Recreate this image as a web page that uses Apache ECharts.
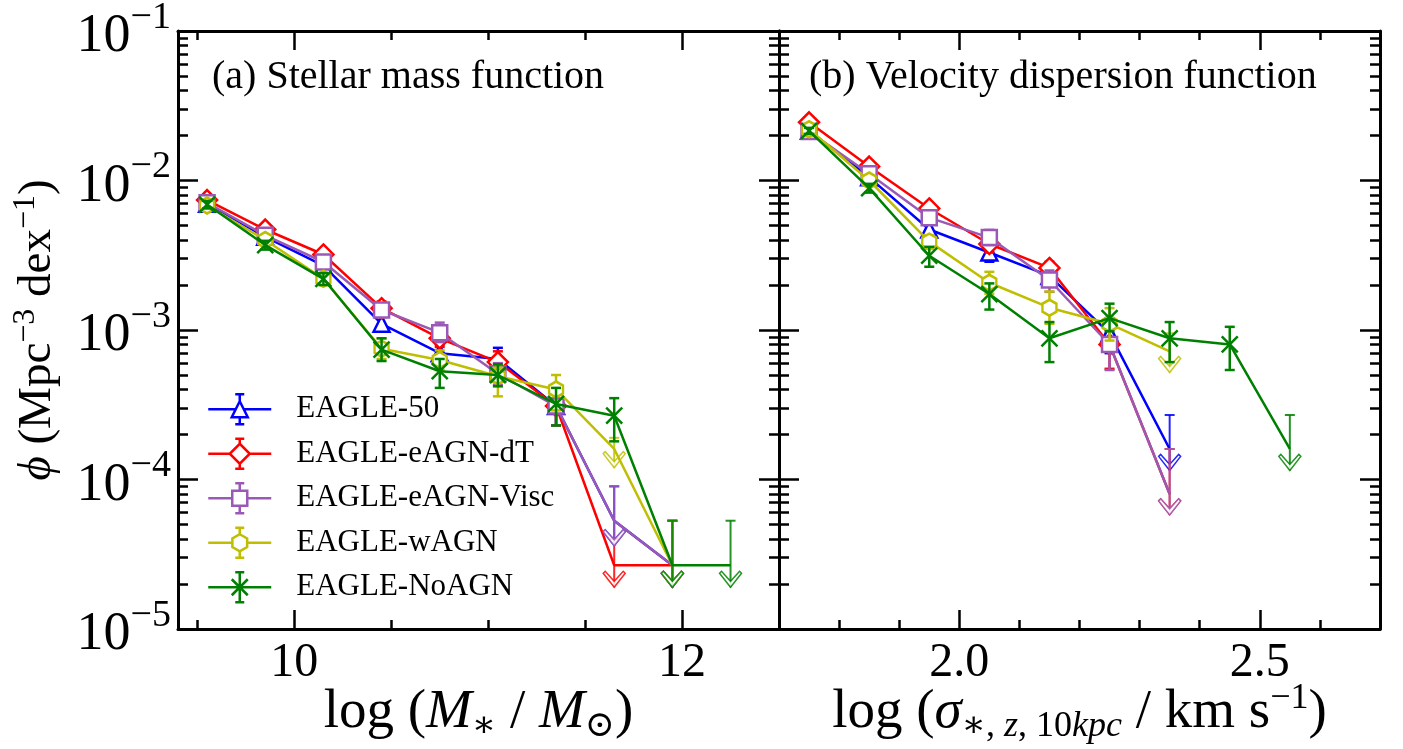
<!DOCTYPE html>
<html>
<head>
<meta charset="utf-8">
<script src="https://cdn.jsdelivr.net/npm/echarts@6/dist/echarts.min.js"></script>
<style>
html, body { margin: 0; padding: 0; background: #fff; }
#main { width: 1403px; height: 749px; }
</style>
</head>
<body>
<div id="main"></div>
<script>
const names = ['EAGLE-50', 'EAGLE-eAGN-dT', 'EAGLE-eAGN-Visc', 'EAGLE-wAGN', 'EAGLE-NoAGN']
const colors = ['#0000ff', '#ff0000', '#9b59b6', '#bfbf00', '#008000']

// (a) stellar mass function, bins of log M*
const massX = [9.55, 9.85, 10.15, 10.45, 10.75, 11.05, 11.35, 11.65, 11.95, 12.25]

const smf50   = [7.0e-3, 4.2e-3, 2.7e-3, 1.1e-3, 7.0e-4, 6.4e-4, 3.1e-4, 5.3e-5, 2.67e-5]
const smf50Lo = [6.6e-3, 3.95e-3, 2.5e-3, 0.98e-3, 6.0e-4, 5.4e-4, 2.3e-4, 3.6e-5, 1.9e-5]
const smf50Hi = [7.4e-3, 4.45e-3, 2.9e-3, 1.24e-3, 8.0e-4, 7.6e-4, 4.0e-4, 9.0e-5, 5.3e-5]

const smfDT   = [7.4e-3, 4.7e-3, 3.2e-3, 1.4e-3, 8.8e-4, 6.1e-4, 3.1e-4, 2.67e-5, 2.67e-5]
const smfDTLo = [7.0e-3, 4.45e-3, 3.0e-3, 1.26e-3, 7.7e-4, 5.2e-4, 2.3e-4, 1.9e-5, 1.9e-5]
const smfDTHi = [7.8e-3, 4.95e-3, 3.4e-3, 1.55e-3, 1.0e-3, 7.2e-4, 4.0e-4, 4.0e-5, 5.3e-5]

const smfVisc   = [7.1e-3, 4.3e-3, 2.85e-3, 1.36e-3, 9.6e-4, 5.1e-4, 3.1e-4, 5.3e-5, 2.67e-5]
const smfViscLo = [6.7e-3, 4.05e-3, 2.65e-3, 1.22e-3, 8.3e-4, 4.3e-4, 2.3e-4, 3.6e-5, 1.9e-5]
const smfViscHi = [7.5e-3, 4.55e-3, 3.05e-3, 1.5e-3, 1.12e-3, 6.0e-4, 4.0e-4, 9.0e-5, 5.3e-5]

const smfW   = [6.8e-3, 4.0e-3, 2.2e-3, 7.5e-4, 6.3e-4, 4.9e-4, 4.0e-4, 1.6e-4, 2.67e-5]
const smfWLo = [6.4e-3, 3.75e-3, 2.0e-3, 6.4e-4, 5.4e-4, 3.6e-4, 2.9e-4, 1.2e-4, 1.9e-5]
const smfWHi = [7.2e-3, 4.25e-3, 2.4e-3, 8.8e-4, 7.3e-4, 5.6e-4, 5.0e-4, 1.9e-4, 5.3e-5]

const smfNo   = [6.9e-3, 3.7e-3, 2.2e-3, 7.4e-4, 5.3e-4, 5.0e-4, 3.2e-4, 2.67e-4, 2.67e-5, 2.67e-5]
const smfNoLo = [6.5e-3, 3.45e-3, 2.0e-3, 6.2e-4, 4.1e-4, 4.2e-4, 2.3e-4, 1.8e-4, 1.9e-5, 1.9e-5]
const smfNoHi = [7.3e-3, 3.95e-3, 2.4e-3, 8.8e-4, 6.4e-4, 5.9e-4, 4.1e-4, 3.5e-4, 5.3e-5, 5.3e-5]

// index from which the points are upper limits (arrows)
const smfLimFrom = [7, 7, 7, 7, 8]

// (b) velocity dispersion function, bins of log sigma
const sigX = [1.75, 1.85, 1.95, 2.05, 2.15, 2.25, 2.35, 2.45, 2.55]

const vdf50   = [2.15e-2, 1.05e-2, 4.7e-3, 3.3e-3, 2.3e-3, 9.5e-4, 1.6e-4]
const vdf50Lo = [2.05e-2, 0.98e-2, 4.3e-3, 2.86e-3, 2.0e-3, 7.0e-4, 1.15e-4]
const vdf50Hi = [2.25e-2, 1.12e-2, 5.1e-3, 3.8e-3, 2.6e-3, 1.2e-3, 2.7e-4]

const vdfDT   = [2.45e-2, 1.24e-2, 6.5e-3, 3.76e-3, 2.6e-3, 8.0e-4, 8.0e-5]
const vdfDTLo = [2.35e-2, 1.16e-2, 6.0e-3, 3.3e-3, 2.3e-3, 5.5e-4, 5.8e-5]
const vdfDTHi = [2.55e-2, 1.32e-2, 7.0e-3, 4.2e-3, 2.86e-3, 1.05e-3, 1.6e-4]

const vdfVisc   = [2.13e-2, 1.11e-2, 5.64e-3, 4.15e-3, 2.16e-3, 8.0e-4, 8.0e-5]
const vdfViscLo = [2.03e-2, 1.04e-2, 5.2e-3, 3.7e-3, 1.8e-3, 5.4e-4, 5.8e-5]
const vdfViscHi = [2.23e-2, 1.18e-2, 6.1e-3, 4.67e-3, 2.5e-3, 1.05e-3, 1.6e-4]

const vdfW   = [2.2e-2, 1.0e-2, 3.9e-3, 2.07e-3, 1.41e-3, 1.1e-3, 7.2e-4]
const vdfWLo = [2.1e-2, 0.94e-2, 3.5e-3, 1.75e-3, 1.1e-3, 0.85e-3, 5.2e-4]
const vdfWHi = [2.3e-2, 1.06e-2, 4.3e-3, 2.45e-3, 1.81e-3, 1.4e-3, 9.5e-4]

const vdfNo   = [2.15e-2, 8.9e-3, 3.14e-3, 1.74e-3, 8.8e-4, 1.2e-3, 8.8e-4, 8.0e-4, 1.6e-4]
const vdfNoLo = [2.05e-2, 8.3e-3, 2.65e-3, 1.37e-3, 6.1e-4, 0.98e-3, 6.1e-4, 5.4e-4, 1.15e-4]
const vdfNoHi = [2.25e-2, 9.5e-3, 3.6e-3, 2.05e-3, 1.13e-3, 1.5e-3, 1.13e-3, 1.05e-3, 2.7e-4]

const vdfLimFrom = [6, 6, 6, 6, 8]

// axis ticks
const massMajor = [10, 12]
const massMinor = [9.5, 10.5, 11, 11.5]
const sigMajor = [2.0, 2.5]
const sigMinor = [1.8, 1.9, 2.1, 2.2, 2.3, 2.4, 2.6]
const minorMult = [2, 3, 4, 5, 6, 7, 8, 9]
const decades = [-5, -4, -3, -2]

const serif = "'Liberation Serif', 'DejaVu Serif', serif"

let symbols = [
    'triangle',
    'diamond',
    'rect',
    'path://M0,-1L0.866,-0.5L0.866,0.5L0,1L-0.866,0.5L-0.866,-0.5Z',
    'path://M-1,-1L1,1M1,-1L-1,1'
]
let symbolSizes = [16, 20, 15, [14, 16], 16]

// legend icons: line + error bar + hollow marker
let legendIcons = [
    'path://M0,15L27.5,15M35.5,15L63,15M31.5,0L31.5,7M31.5,23L31.5,30M27,0L36,0M27,30L36,30M31.5,7L39.5,23L23.5,23Z',
    'path://M0,15L21.5,15M41.5,15L63,15M31.5,0L31.5,5M31.5,25L31.5,30M27,0L36,0M27,30L36,30M31.5,5L41.5,15L31.5,25L21.5,15Z',
    'path://M0,15L24,15M39,15L63,15M31.5,0L31.5,7.5M31.5,22.5L31.5,30M27,0L36,0M27,30L36,30M24,7.5L39,7.5L39,22.5L24,22.5Z',
    'path://M0,15L24.1,15M38.9,15L63,15M31.5,0L31.5,6.5M31.5,23.5L31.5,30M27,0L36,0M27,30L36,30M31.5,6.5L38.9,10.75L38.9,19.25L31.5,23.5L24.1,19.25L24.1,10.75Z',
    'path://M0,15L63,15M31.5,0L31.5,30M27,0L36,0M27,30L36,30M23.5,7L39.5,23M39.5,7L23.5,23'
]

let minorLog = []
decades.forEach(function (d) {
    minorMult.forEach(function (m) { minorLog.push(d + Math.log10(m)) })
})

let blackLine = { color: '#000', width: 3 }
let tickLine = { color: '#000', width: 2.5 }

let xNameRich = {
    n: { fontSize: 55, fontFamily: serif, color: '#000', lineHeight: 64 },
    i: { fontSize: 55, fontFamily: serif, fontStyle: 'italic', color: '#000', lineHeight: 64 },
    sub: { fontSize: 36, fontFamily: serif, color: '#000', lineHeight: 36, verticalAlign: 'bottom' },
    subi: { fontSize: 36, fontFamily: serif, fontStyle: 'italic', color: '#000', lineHeight: 36, verticalAlign: 'bottom' },
    sup: { fontSize: 36, fontFamily: serif, color: '#000', lineHeight: 36, verticalAlign: 'top' }
}
let yNameRich = {
    n: { fontSize: 47, fontFamily: serif, color: '#000', lineHeight: 56 },
    i: { fontSize: 47, fontFamily: serif, fontStyle: 'italic', color: '#000', lineHeight: 56 },
    sup: { fontSize: 32, fontFamily: serif, color: '#000', lineHeight: 32, verticalAlign: 'top' }
}

function xAxesFor(grid, min, max, major, minor, labelFmt, name) {
    let list = []
    ;['bottom', 'top'].forEach(function (pos) {
        let base = { type: 'value', gridIndex: grid, min: min, max: max, position: pos, splitLine: { show: false } }
        let main = Object.assign({}, base, {
            axisLine: { show: true, onZero: false, lineStyle: blackLine },
            axisTick: { show: true, inside: true, length: 19, customValues: major, lineStyle: tickLine },
            axisLabel: { show: false }
        })
        if (pos == 'bottom') {
            main.axisLabel = {
                show: true, customValues: major, margin: 10, color: '#000',
                fontFamily: serif, fontSize: 48, formatter: labelFmt
            }
            main.name = name
            main.nameLocation = 'middle'
            main.nameGap = 52
            main.nameMoveOverlap = false
            main.nameTextStyle = { rich: xNameRich }
        }
        list.push(main)
        list.push(Object.assign({}, base, {
            axisLine: { show: false, onZero: false },
            axisTick: { show: true, inside: true, length: 9, customValues: minor, lineStyle: tickLine },
            axisLabel: { show: false }
        }))
    })
    return list
}

function yAxesFor(grid, withLabel) {
    let list = []
    ;['left', 'right'].forEach(function (pos) {
        let main = {
            type: 'log', logBase: 10, gridIndex: grid, min: 1e-5, max: 1e-1, position: pos,
            splitLine: { show: false },
            minorTick: { show: false },
            axisLine: { show: true, onZero: false, lineStyle: blackLine },
            axisTick: { show: true, inside: true, length: 20, lineStyle: tickLine },
            axisLabel: { show: false }
        }
        if (withLabel && pos == 'left') {
            main.axisLabel = {
                show: true, margin: 7,
                formatter: function (v) {
                    let e = Math.round(Math.log10(v))
                    return '{b|10}{s|−' + (-e) + '}'
                },
                rich: {
                    b: { fontSize: 54, fontFamily: serif, color: '#000', lineHeight: 64, padding: [12, 0, 0, 0] },
                    s: { fontSize: 38, fontFamily: serif, color: '#000', lineHeight: 38, verticalAlign: 'top' }
                }
            }
            main.name = '{i|ϕ}{n| (Mpc}{sup|−3}{n| dex}{sup|−1}{n|)}'
            main.nameLocation = 'middle'
            main.nameGap = 112
            main.nameRotate = 90
            main.nameTextStyle = { rich: yNameRich }
        }
        list.push(main)
        list.push({
            type: 'value', gridIndex: grid, min: -5, max: -1, position: pos,
            splitLine: { show: false },
            axisLine: { show: false, onZero: false },
            axisTick: { show: true, inside: true, length: 10, customValues: minorLog, lineStyle: tickLine },
            axisLabel: { show: false }
        })
    })
    return list
}

function drawBar(params, api) {
    let x = api.value(0)
    let lo = api.coord([x, api.value(1)])
    let hi = api.coord([x, api.value(2)])
    let cap = 5
    let style = { stroke: api.visual('color'), lineWidth: 2.5 }
    return {
        type: 'group',
        children: [
            { type: 'line', shape: { x1: lo[0], y1: lo[1], x2: hi[0], y2: hi[1] }, style: style },
            { type: 'line', shape: { x1: lo[0] - cap, y1: lo[1], x2: lo[0] + cap, y2: lo[1] }, style: style },
            { type: 'line', shape: { x1: hi[0] - cap, y1: hi[1], x2: hi[0] + cap, y2: hi[1] }, style: style }
        ]
    }
}

// upper limit: stem from the top down to a caret
function drawArrow(params, api) {
    let x = api.value(0)
    let hi = api.coord([x, api.value(1)])
    let tip = api.coord([x, api.value(2)])
    let c = api.visual('color')
    let px = tip[0], py = tip[1]
    return {
        type: 'group',
        children: [
            { type: 'line', shape: { x1: hi[0], y1: hi[1], x2: px, y2: py }, style: { stroke: c, lineWidth: 2, opacity: 0.85 } },
            { type: 'line', shape: { x1: hi[0] - 5, y1: hi[1], x2: hi[0] + 5, y2: hi[1] }, style: { stroke: c, lineWidth: 2, opacity: 0.85 } },
            {
                type: 'polygon',
                shape: { points: [[px, py], [px + 11, py - 14], [px + 9, py - 16], [px, py - 6], [px - 9, py - 16], [px - 11, py - 14]] },
                style: { fill: '#fff', stroke: c, lineWidth: 1.5, opacity: 0.85 }
            }
        ]
    }
}

let series = []

function addPanel(grid, xs, sets, limFrom) {
    sets.forEach(function (s, i) {
        let bars = [], arrows = [], pts = []
        s[0].forEach(function (v, k) {
            if (k >= limFrom[i]) {
                pts.push({ value: [xs[k], v], symbol: 'none' })
                arrows.push([xs[k], s[2][k], s[1][k]])
            } else {
                pts.push([xs[k], v])
                bars.push([xs[k], s[1][k], s[2][k]])
            }
        })
        let axisIdx = { xAxisIndex: grid * 4, yAxisIndex: grid * 4 }
        series.push(Object.assign({
            type: 'custom', name: names[i] + ' err', renderItem: drawBar, data: bars,
            encode: { x: 0, y: [1, 2] }, itemStyle: { color: colors[i] }, z: 2 + i, silent: true
        }, axisIdx))
        series.push(Object.assign({
            type: 'custom', name: names[i] + ' lim', renderItem: drawArrow, data: arrows,
            encode: { x: 0, y: [1, 2] }, itemStyle: { color: colors[i] }, z: 2 + i, silent: true
        }, axisIdx))
        series.push(Object.assign({
            type: 'line', name: names[i], data: pts,
            symbol: symbols[i], symbolSize: symbolSizes[i], showSymbol: true,
            lineStyle: { color: colors[i], width: 2.5 },
            itemStyle: { color: '#fff', borderColor: colors[i], borderWidth: 2.5 },
            z: 2 + i, silent: true
        }, axisIdx))
    })
}

addPanel(0, massX, [
    [smf50, smf50Lo, smf50Hi],
    [smfDT, smfDTLo, smfDTHi],
    [smfVisc, smfViscLo, smfViscHi],
    [smfW, smfWLo, smfWHi],
    [smfNo, smfNoLo, smfNoHi]
], smfLimFrom)

addPanel(1, sigX, [
    [vdf50, vdf50Lo, vdf50Hi],
    [vdfDT, vdfDTLo, vdfDTHi],
    [vdfVisc, vdfViscLo, vdfViscHi],
    [vdfW, vdfWLo, vdfWHi],
    [vdfNo, vdfNoLo, vdfNoHi]
], vdfLimFrom)

let titleStyle = { fontFamily: serif, fontSize: 40, fontWeight: 'normal', color: '#000' }

let option = {
    animation: false,
    backgroundColor: '#fff',
    title: [
        { text: '(a) Stellar mass function', left: 212, top: 57, padding: 0, textStyle: titleStyle },
        { text: '(b) Velocity dispersion function', left: 809, top: 57, padding: 0, textStyle: titleStyle }
    ],
    legend: {
        orient: 'vertical', left: 207, top: 393, padding: 0,
        itemWidth: 63, itemHeight: 30, itemGap: 12, selectedMode: false,
        textStyle: { fontFamily: serif, fontSize: 31, color: '#000', padding: [0, 0, 0, 20] },
        data: names.map(function (n, i) {
            return { name: n, icon: legendIcons[i], itemStyle: { color: '#fff', borderColor: colors[i], borderWidth: 2.5 } }
        })
    },
    grid: [
        { left: 178, top: 31, width: 601, height: 598, containLabel: false, outerBoundsMode: 'none' },
        { left: 779, top: 31, width: 601, height: 598, containLabel: false, outerBoundsMode: 'none' }
    ],
    xAxis: xAxesFor(0, 9.4, 12.5, massMajor, massMinor, function (v) { return String(v) },
        '{n|log (}{i|M}{sub|∗}{n| / }{i|M}{sub|⊙}{n|)}')
        .concat(xAxesFor(1, 1.7, 2.7, sigMajor, sigMinor, function (v) { return v.toFixed(1) },
        '{n|log (}{i|σ}{sub|∗, }{subi|z}{sub|, 10}{subi|kpc}{n| / km s}{sup|−1}{n|)}')),
    yAxis: yAxesFor(0, true).concat(yAxesFor(1, false)),
    series: series
}

let myChart = echarts.init(document.getElementById('main'))
myChart.setOption(option)
</script>
</body>
</html>
